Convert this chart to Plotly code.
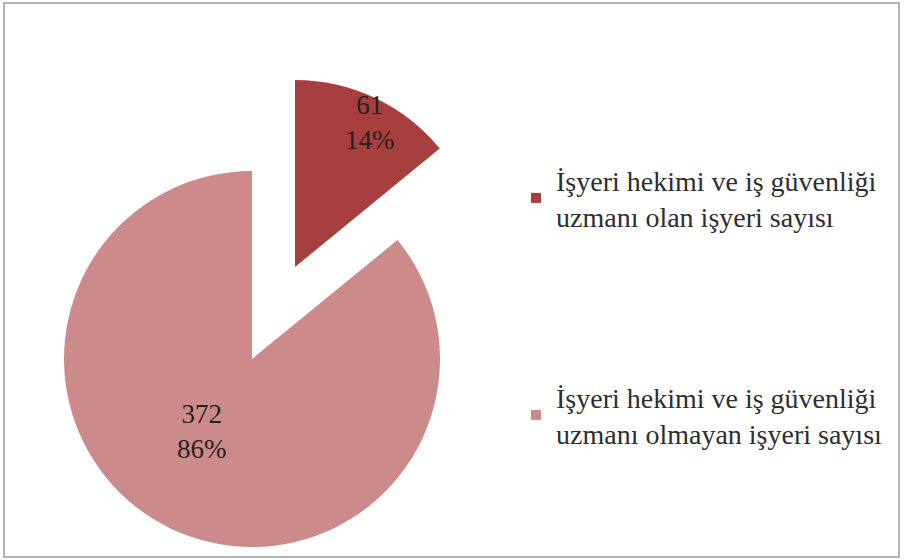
import math
import plotly.graph_objects as go

# ---- data ----
labels = ["İşyeri hekimi ve iş güvenliği<br>uzmanı olan işyeri sayısı",
          "İşyeri hekimi ve iş güvenliği<br>uzmanı olmayan işyeri sayısı"]
values = [61, 372]
colors = ["#A63F3D", "#CD8A8B"]

# ---- layout geometry (pixels) ----
W, H = 904, 560
geom = [dict(cx=295, cy=267, r=187), dict(cx=252, cy=359, r=188)]  # pulled small slice / main slice
label_frac = [0.87, 0.47]
label_rot = [2.0, 9.0]
FONT = "Liberation Serif"

fig = go.Figure()
total = sum(values)
start = 0.0
annotations = []
for i, (v, g) in enumerate(zip(values, geom)):
    cx, cy, r = g["cx"], g["cy"], g["r"]
    cols = [colors[j] if j == i else "rgba(0,0,0,0)" for j in range(len(values))]
    fig.add_trace(go.Pie(
        values=values, labels=labels, sort=False, direction="clockwise", rotation=0,
        marker=dict(colors=cols, line=dict(width=0)),
        textinfo="none", showlegend=False, hoverinfo="skip",
        domain=dict(x=[(cx - r) / W, (cx + r) / W], y=[1 - (cy + r) / H, 1 - (cy - r) / H]),
    ))
    ang = 360.0 * v / total
    mid = math.radians(start + ang / 2 + label_rot[i])
    start += ang
    px = cx + label_frac[i] * r * math.sin(mid)
    py = cy - label_frac[i] * r * math.cos(mid)
    annotations.append(dict(
        x=px / W, y=1 - py / H, xref="paper", yref="paper", showarrow=False,
        xanchor="center", yanchor="middle",
        text=f"{v}<br>{round(100 * v / total)}%",
        font=dict(family=FONT, size=27, color="#2a2020"),
    ))

# legend entries
for i, (lab, c) in enumerate(zip(labels, colors)):
    fig.add_trace(go.Scatter(
        x=[None], y=[None], mode="markers", name=lab,
        marker=dict(symbol="square", size=10, color=c),
        legend="legend" if i == 0 else "legend2",
    ))

leg_common = dict(font=dict(family=FONT, size=28, color="#2e2e2e"),
                  bgcolor="rgba(0,0,0,0)", xanchor="left", yanchor="top",
                  itemclick=False, itemdoubleclick=False)

fig.update_layout(
    width=W, height=H,
    margin=dict(l=0, r=0, t=0, b=0),
    paper_bgcolor="white", plot_bgcolor="white",
    xaxis=dict(visible=False), yaxis=dict(visible=False),
    annotations=annotations,
    legend=dict(x=516 / W, y=1 - 155 / H, **leg_common),
    legend2=dict(x=516 / W, y=1 - 372 / H, **leg_common),
    shapes=[dict(type="rect", xref="paper", yref="paper",
                 x0=4 / W, x1=899 / W, y0=1 - 557 / H, y1=1 - 3 / H,
                 line=dict(color="#9a9a9a", width=1.5))],
)

fig.write_html("out.html", config={"displayModeBar": False},
               post_script="document.body.style.margin='0px';")
